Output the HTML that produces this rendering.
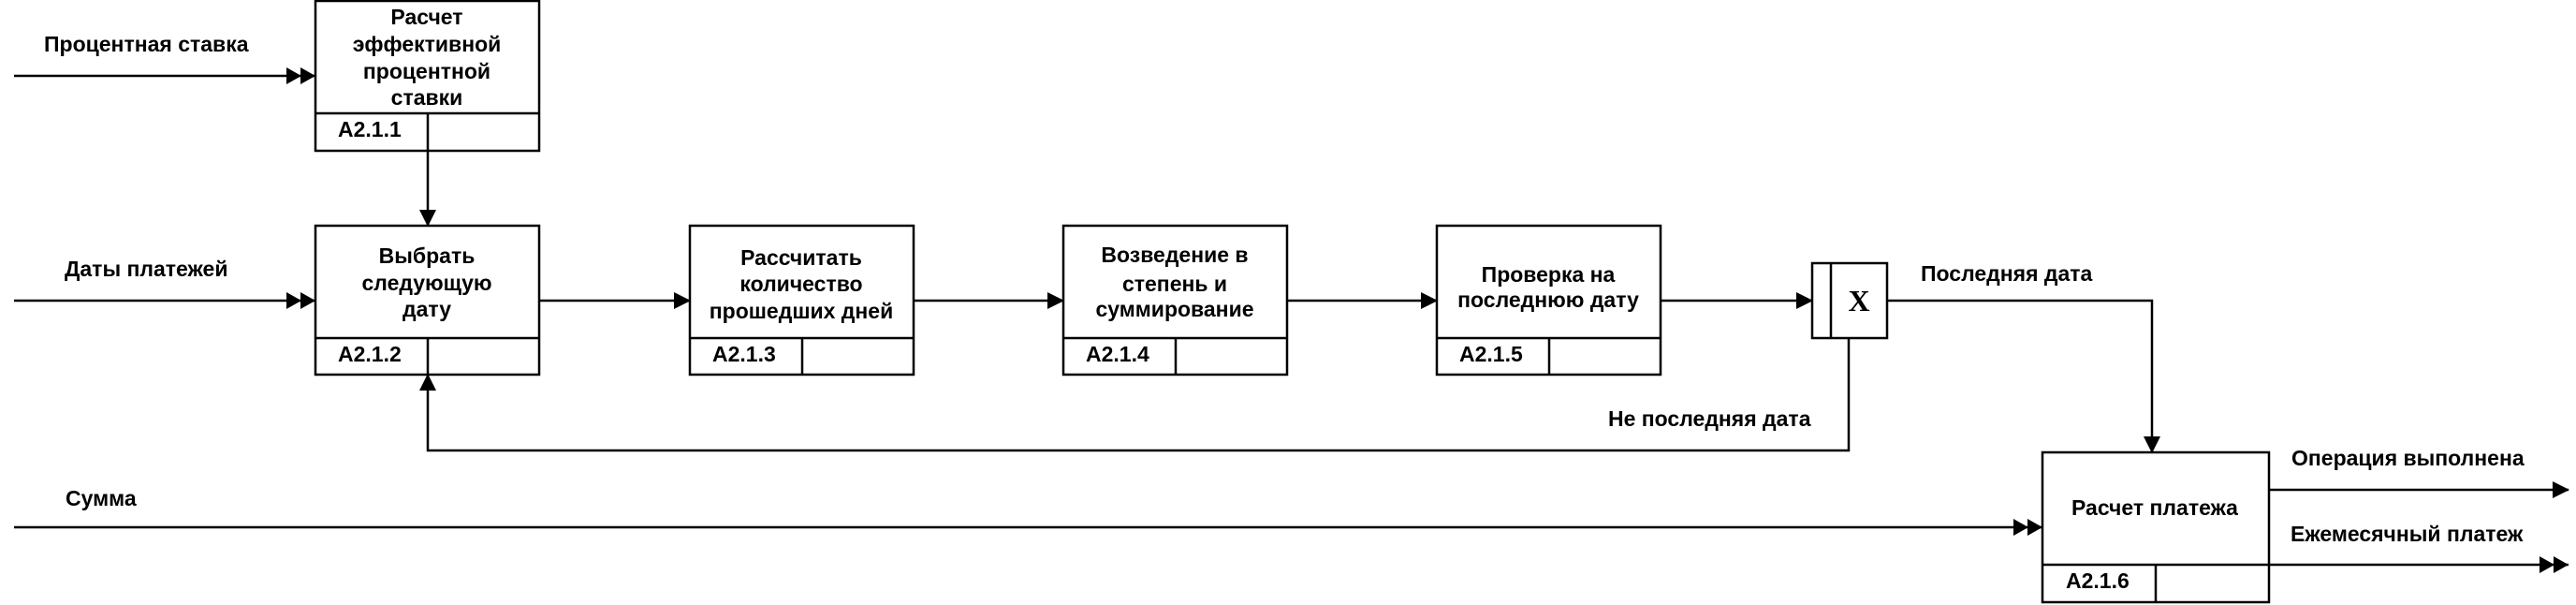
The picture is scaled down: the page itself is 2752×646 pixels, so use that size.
<!DOCTYPE html>
<html><head><meta charset="utf-8"><style>
html,body{margin:0;padding:0;background:#fff;}
svg{display:block;}
text{font-family:"Liberation Sans",sans-serif;font-weight:bold;font-size:23px;fill:#000;}
</style></head><body>
<svg width="2752" height="646" viewBox="0 0 2752 646" xmlns="http://www.w3.org/2000/svg">
<defs>
<marker id="a" markerWidth="18" markerHeight="18" refX="17" refY="9" orient="auto" markerUnits="userSpaceOnUse"><path d="M0,0 L18,9 L0,18 z" fill="#000"/></marker>
<marker id="d" markerWidth="32" markerHeight="18" refX="31" refY="9" orient="auto" markerUnits="userSpaceOnUse"><path d="M0,0 L16,9 L0,18 z M15,0 L31,9 L15,18 z" fill="#000"/></marker>
</defs>
<g fill="none" stroke="#000" stroke-width="2.5">
<rect x="337" y="1" width="239" height="160"/><line x1="337" y1="121" x2="576" y2="121"/><line x1="457" y1="121" x2="457" y2="161"/>
<rect x="337" y="241" width="239" height="159"/><line x1="337" y1="361" x2="576" y2="361"/><line x1="457" y1="361" x2="457" y2="400"/>
<rect x="737" y="241" width="239" height="159"/><line x1="737" y1="361" x2="976" y2="361"/><line x1="857" y1="361" x2="857" y2="400"/>
<rect x="1136" y="241" width="239" height="159"/><line x1="1136" y1="361" x2="1375" y2="361"/><line x1="1256" y1="361" x2="1256" y2="400"/>
<rect x="1535" y="241" width="239" height="159"/><line x1="1535" y1="361" x2="1774" y2="361"/><line x1="1655" y1="361" x2="1655" y2="400"/>
<rect x="2182" y="483" width="242" height="160"/><line x1="2182" y1="603" x2="2424" y2="603"/><line x1="2303" y1="603" x2="2303" y2="643"/>
<rect x="1936" y="281" width="80" height="80"/><line x1="1956" y1="281" x2="1956" y2="361"/>
<line x1="15" y1="81" x2="337" y2="81" marker-end="url(#d)"/>
<line x1="15" y1="321" x2="337" y2="321" marker-end="url(#d)"/>
<line x1="457" y1="161" x2="457" y2="241" marker-end="url(#a)"/>
<line x1="576" y1="321" x2="737" y2="321" marker-end="url(#a)"/>
<line x1="976" y1="321" x2="1136" y2="321" marker-end="url(#a)"/>
<line x1="1375" y1="321" x2="1535" y2="321" marker-end="url(#a)"/>
<line x1="1774" y1="321" x2="1936" y2="321" marker-end="url(#a)"/>
<polyline points="2016,321 2299,321 2299,483" marker-end="url(#a)"/>
<polyline points="1975,361 1975,481 457,481 457,400" marker-end="url(#a)"/>
<line x1="15" y1="563" x2="2182" y2="563" marker-end="url(#d)"/>
<line x1="2424" y1="523" x2="2744" y2="523" marker-end="url(#a)"/>
<line x1="2424" y1="603" x2="2744" y2="603" marker-end="url(#d)"/>
</g>
<text x="1986" y="332" text-anchor="middle" style="font-family:'Liberation Serif',serif;font-size:32px">X</text>
<g text-anchor="middle">
<text x="456" y="26">Расчет</text><text x="456" y="55">эффективной</text><text x="456" y="84">процентной</text><text x="456" y="112">ставки</text>
<text x="456" y="281">Выбрать</text><text x="456" y="310">следующую</text><text x="456" y="338">дату</text>
<text x="856" y="283">Рассчитать</text><text x="856" y="311">количество</text><text x="856" y="340">прошедших дней</text>
<text x="1255" y="280">Возведение в</text><text x="1255" y="311">степень и</text><text x="1255" y="338">суммирование</text>
<text x="1654" y="301">Проверка на</text><text x="1654" y="328">последнюю дату</text>
<text x="2302" y="550">Расчет платежа</text>
</g>
<text x="361" y="146">A2.1.1</text>
<text x="361" y="386">A2.1.2</text>
<text x="761" y="386">A2.1.3</text>
<text x="1160" y="386">A2.1.4</text>
<text x="1559" y="386">A2.1.5</text>
<text x="2207" y="628">A2.1.6</text>
<text x="47" y="55">Процентная ставка</text>
<text x="69" y="295">Даты платежей</text>
<text x="70" y="540">Сумма</text>
<text x="2052" y="300">Последняя дата</text>
<text x="1718" y="455">Не последняя дата</text>
<text x="2448" y="497">Операция выполнена</text>
<text x="2447" y="578">Ежемесячный платеж</text>
</svg>
</body></html>
